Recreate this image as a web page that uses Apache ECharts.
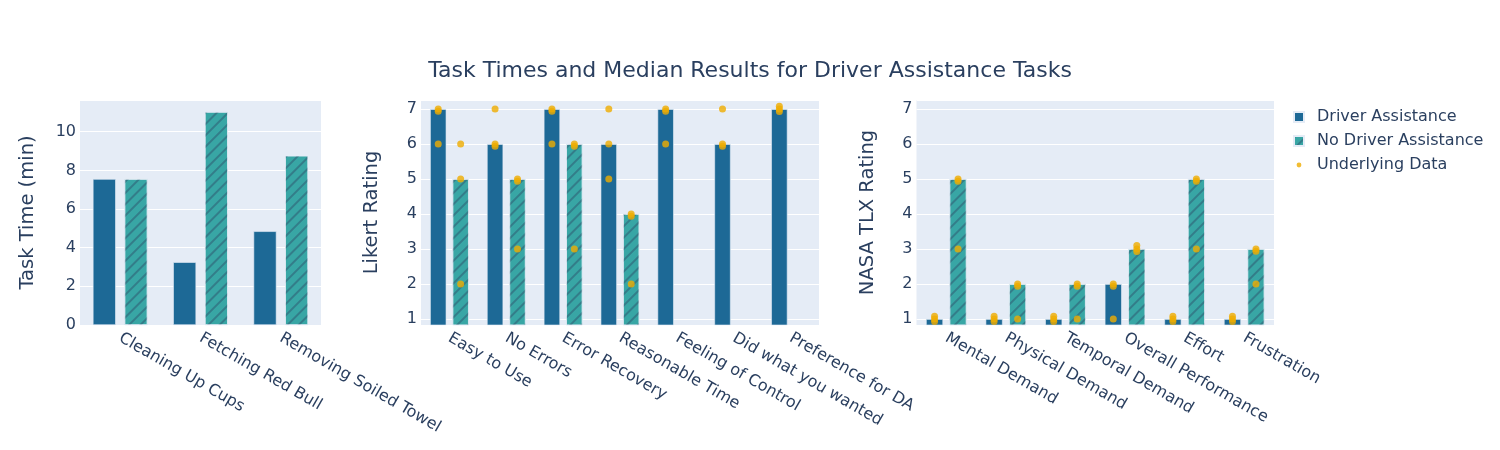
<!DOCTYPE html>
<html>
<head>
<meta charset="utf-8">
<title>Task Times and Median Results</title>
<script src="https://cdn.jsdelivr.net/npm/echarts@6/dist/echarts.min.js"></script>
<style>
  html, body { margin: 0; padding: 0; background: #fff; }
  #chart { width: 1500px; height: 450px; }
</style>
</head>
<body>
<div id="chart"></div>
<script>
// task times (minutes)
const taskCats = ['Cleaning Up Cups', 'Fetching Red Bull', 'Removing Soiled Towel'];
const taskDA = [7.55, 3.25, 4.85];
const taskNDA = [7.55, 11.02, 8.76];

// likert medians + raw answers
const likertCats = ['Easy to Use', 'No Errors', 'Error Recovery', 'Reasonable Time',
  'Feeling of Control', 'Did what you wanted', 'Preference for DA'];
const likertDA = [7, 6, 7, 6, 7, 6, 7];
const likertNDA = [5, 5, 6, 4, null, null, null];
const likertDAPoints = [[7, 6.94, 6], [7, 6, 5.94], [7, 6.94, 6], [7, 6, 5],
  [7, 6.94, 6], [7, 6, 5.94], [7.08, 7, 6.93]];
const likertNDAPoints = [[6, 5, 2], [5, 4.94, 3], [6, 5.94, 3], [4, 3.94, 2], [], [], []];

// nasa tlx medians + raw answers
const tlxCats = ['Mental Demand', 'Physical Demand', 'Temporal Demand',
  'Overall Performance', 'Effort', 'Frustration'];
const tlxDA = [1, 1, 1, 2, 1, 1];
const tlxNDA = [5, 2, 2, 3, 5, 3];
const tlxDAPoints = [[1.08, 1, 0.93], [1.08, 1, 0.93], [1.08, 1, 0.93], [2, 1.94, 1],
  [1.08, 1, 0.93], [1.08, 1, 0.93]];
const tlxNDAPoints = [[5, 4.94, 3], [2, 1.94, 1], [2, 1.94, 1], [3.1, 3, 2.93],
  [5, 4.94, 3], [3, 2.94, 2]];

const textColor = '#2a3f5f';
const font = 'DejaVu Sans';
const colorDA = '#1D6996';
const colorNDA = '#38A6A5';
const colorDot = '#EFAC00';

const catGap = 0.32;
const barGap = 0.38;
// centre of each bar relative to the category centre, in category units
const barW = (1 - catGap) / (2 + barGap);
const dotOffset = barW * (1 + barGap) / 2;

const hatch = {
  symbol: 'rect',
  symbolSize: 1,
  color: 'rgba(42, 63, 95, 0.4)',
  dashArrayX: [1, 0],
  dashArrayY: [2, 6],
  rotation: -Math.PI / 4,
};

const grids = [
  { left: 80, top: 100, width: 241, height: 225 },
  { left: 421, top: 100, width: 398, height: 225 },
  { left: 916.5, top: 100, width: 357.5, height: 225 },
];

function catAxis(cats, gridIndex) {
  return {
    type: 'category',
    gridIndex,
    data: cats,
    axisLine: { show: false },
    axisTick: { show: false },
    axisLabel: {
      interval: 0,
      rotate: -30,
      margin: 12,
      fontSize: 16,
      fontFamily: font,
      color: textColor,
    },
  };
}

function dotAxis(n, gridIndex) {
  return { type: 'value', gridIndex, min: -0.5, max: n - 0.5, show: false };
}

const intLabel = v => (Math.abs(v - Math.round(v)) < 1e-6 ? String(Math.round(v)) : '');

function valAxis(gridIndex, name, opts, nameGap) {
  return Object.assign({
    type: 'value',
    gridIndex,
    name,
    nameLocation: 'middle',
    nameGap,
    nameTextStyle: { fontSize: 19.5, fontFamily: font, color: textColor },
    axisLine: { show: false },
    axisTick: { show: false },
    splitLine: { lineStyle: { color: '#fff', width: 1 } },
    axisLabel: { fontSize: 16, fontFamily: font, color: textColor, margin: 4, formatter: intLabel },
  }, opts);
}

function pointsFor(points, side) {
  const out = [];
  points.forEach((vals, i) => {
    vals.forEach(v => out.push([i + side * dotOffset, v]));
  });
  return out;
}

function barPair(da, nda, axisIndex) {
  const common = {
    type: 'bar',
    xAxisIndex: axisIndex,
    yAxisIndex: axisIndex,
    barCategoryGap: catGap * 100 + '%',
    barGap: barGap * 100 + '%',
  };
  return [
    Object.assign({}, common, {
      name: 'Driver Assistance',
      data: da,
      itemStyle: { color: colorDA, borderColor: '#E5ECF6', borderWidth: 0.6 },
    }),
    Object.assign({}, common, {
      name: 'No Driver Assistance',
      data: nda,
      itemStyle: { color: colorNDA, borderColor: '#E5ECF6', borderWidth: 0.6, decal: hatch },
    }),
  ];
}

function dots(points, side, xIdx, yIdx) {
  return {
    type: 'scatter',
    name: 'Underlying Data',
    xAxisIndex: xIdx,
    yAxisIndex: yIdx,
    symbolSize: 7,
    z: 5,
    itemStyle: { color: colorDot },
    data: pointsFor(points, side),
  };
}

const chart = echarts.init(document.getElementById('chart'));

const option = {
  animation: false,
  backgroundColor: '#fff',
  title: {
    text: 'Task Times and Median Results for Driver Assistance Tasks',
    left: 'center',
    top: 60,
    padding: 0,
    textStyle: { fontSize: 22, fontWeight: 'normal', fontFamily: font, color: textColor },
  },
  legend: {
    orient: 'vertical',
    left: 1293,
    top: 109,
    padding: 0,
    itemWidth: 10,
    itemHeight: 10,
    itemGap: 8,
    textStyle: { fontSize: 16, fontFamily: font, color: textColor, padding: [0, 0, 0, 8] },
    data: [
      { name: 'Driver Assistance', icon: 'rect' },
      { name: 'No Driver Assistance', icon: 'rect' },
      { name: 'Underlying Data', icon: 'path://M0,0M10,10M5,2.6A2.4,2.4,0,1,1,5,7.4A2.4,2.4,0,1,1,5,2.6Z' },
    ],
  },
  grid: grids.map(g => Object.assign({ show: true, backgroundColor: '#E5ECF6', borderWidth: 0 }, g)),
  xAxis: [
    catAxis(taskCats, 0),
    catAxis(likertCats, 1),
    catAxis(tlxCats, 2),
    dotAxis(likertCats.length, 1),
    dotAxis(tlxCats.length, 2),
  ],
  yAxis: [
    valAxis(0, 'Task Time (min)', { min: 0, max: 11.64, interval: 2 }, 42),
    valAxis(1, 'Likert Rating', { min: 0.83, max: 7.26, minInterval: 1, maxInterval: 1, splitNumber: 6 }, 39),
    valAxis(2, 'NASA TLX Rating', { min: 0.83, max: 7.26, minInterval: 1, maxInterval: 1, splitNumber: 6 }, 39),
  ],
  series: [
    ...barPair(taskDA, taskNDA, 0),
    ...barPair(likertDA, likertNDA, 1),
    ...barPair(tlxDA, tlxNDA, 2),
    dots(likertDAPoints, -1, 3, 1),
    dots(likertNDAPoints, 1, 3, 1),
    dots(tlxDAPoints, -1, 4, 2),
    dots(tlxNDAPoints, 1, 4, 2),
  ],
};

chart.setOption(option);
</script>
</body>
</html>
